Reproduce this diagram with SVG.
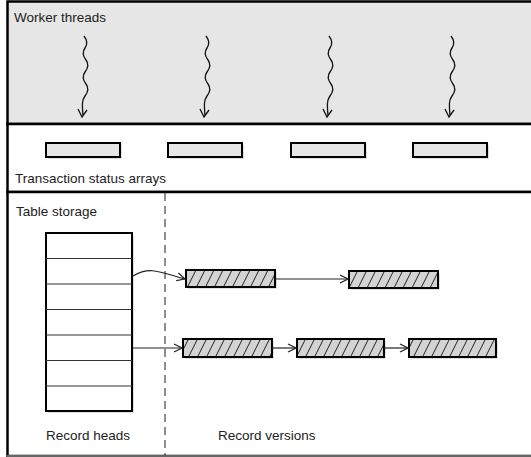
<svg xmlns="http://www.w3.org/2000/svg" width="531" height="457" viewBox="0 0 531 457">
<style>
text{font-family:"Liberation Sans",Arial,sans-serif;font-size:13.5px;fill:#222}
.band{stroke:#000;stroke-width:2.5}
.tsa{fill:#e6e6e6;stroke:#000;stroke-width:2}
.ver{fill:url(#hatch);stroke:#000;stroke-width:2}
.shadow{fill:#000;opacity:0.12}
.conn{fill:none;stroke:#222;stroke-width:1.2}
.sq{fill:none;stroke:#111;stroke-width:1.3}
</style>
<defs>
<pattern id="hatch" patternUnits="userSpaceOnUse" width="9" height="18">
<rect width="9" height="18" fill="#d3d3d3"/>
<path d="M-2,18 L7,0 M7,18 L16,0" stroke="#222" stroke-width="1"/>
</pattern>
<marker id="arr" markerWidth="10" markerHeight="10" refX="9" refY="5" orient="auto" markerUnits="userSpaceOnUse">
<path d="M1,1 L9,5 L1,9" fill="none" stroke="#222" stroke-width="1.2"/>
</marker>
<path id="squig" d="M0,0 c3,4 4,8 1,12 c-3,4 -2,8 1,12 c3,4 2,8 -1,12 c-3,4 -2,8 1,12 c3,4 2,8 -1,12 c-3,4 -3,8 -2,20 M-6,73 L-2,81 L3,74"/>
</defs>
<rect x="0" y="0" width="531" height="457" fill="#fff"/>
<g id="worker-threads">
<rect class="band" x="7.5" y="1.5" width="540" height="122.5" fill="#e6e6e6"/>
<text x="14" y="22">Worker threads</text>
<use href="#squig" class="sq" x="84" y="36"/>
<use href="#squig" class="sq" x="206" y="36"/>
<use href="#squig" class="sq" x="329" y="36"/>
<use href="#squig" class="sq" x="451" y="36"/>
</g>
<g id="transaction-status-arrays">
<rect class="band" x="7.5" y="124" width="540" height="68" fill="#fff"/>
<rect class="shadow" x="48" y="145" width="74" height="14"/>
<rect class="shadow" x="170" y="145" width="74" height="14"/>
<rect class="shadow" x="293" y="145" width="74" height="14"/>
<rect class="shadow" x="415" y="145" width="74" height="14"/>
<rect class="tsa" x="46" y="143" width="74" height="14"/>
<rect class="tsa" x="168" y="143" width="74" height="14"/>
<rect class="tsa" x="291" y="143" width="74" height="14"/>
<rect class="tsa" x="413" y="143" width="74" height="14"/>
<text x="15" y="183">Transaction status arrays</text>
</g>
<g id="table-storage">
<rect x="7.5" y="192" width="540" height="264" fill="#fff" stroke="#000" stroke-width="2.5"/>
<line x1="7" y1="456" x2="531" y2="456" stroke="#888" stroke-width="1.5"/>
<text x="16" y="216">Table storage</text>
<line x1="165" y1="193" x2="165" y2="456" stroke="#444" stroke-width="1.2" stroke-dasharray="8,5"/>
</g>
<g id="record-heads">
<rect class="shadow" x="48" y="235" width="86" height="178"/>
<rect x="46" y="233" width="86" height="178" fill="#fff" stroke="#000" stroke-width="2"/>
<path d="M46,258.5H132M46,284H132M46,309.5H132M46,335H132M46,360.5H132M46,386H132" stroke="#333" stroke-width="1"/>
<text x="88" y="440" text-anchor="middle">Record heads</text>
</g>
<g id="record-versions">
<rect class="shadow" x="188" y="272" width="89" height="17"/>
<rect class="shadow" x="351" y="273" width="89" height="17"/>
<rect class="shadow" x="185" y="341" width="89" height="18"/>
<rect class="shadow" x="299" y="341" width="87" height="18"/>
<rect class="shadow" x="411" y="341" width="87" height="18"/>
<rect class="ver" x="186" y="270" width="89" height="17"/>
<rect class="ver" x="349" y="271" width="89" height="17"/>
<rect class="ver" x="183" y="339" width="89" height="18"/>
<rect class="ver" x="297" y="339" width="87" height="18"/>
<rect class="ver" x="409" y="339" width="87" height="18"/>
<text x="218" y="440">Record versions</text>
</g>
<g id="connectors">
<path class="conn" d="M133,276 C150,266 160,272 185,279" marker-end="url(#arr)"/>
<path class="conn" d="M275,279 L348,279" marker-end="url(#arr)"/>
<path class="conn" d="M133,348 L182,348" marker-end="url(#arr)"/>
<path class="conn" d="M272,348 L296,348" marker-end="url(#arr)"/>
<path class="conn" d="M384,348 L408,348" marker-end="url(#arr)"/>
</g>
</svg>
